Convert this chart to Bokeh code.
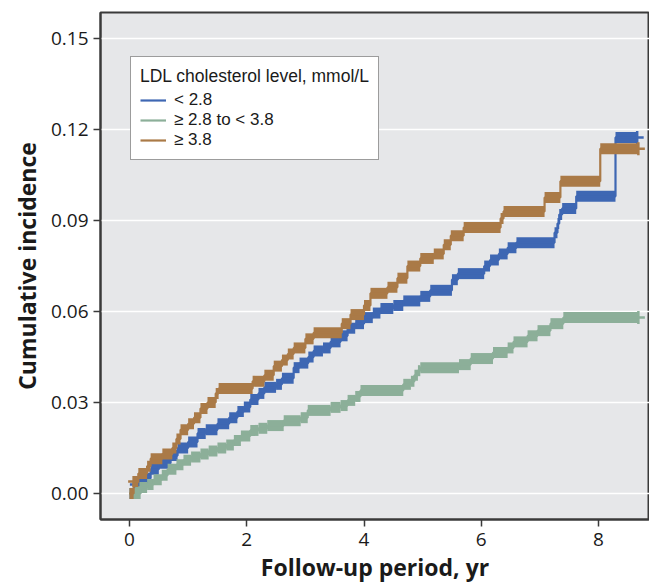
from bokeh.plotting import figure
from bokeh.models import Range1d, FixedTicker, Legend, LegendItem, PrintfTickFormatter
from bokeh.embed import file_html
from bokeh.resources import INLINE

legend_title = "LDL cholesterol level, mmol/L"
group_labels = ["< 2.8", "\u2265 2.8 to < 3.8", "\u2265 3.8"]
x_ticks = [0, 2, 4, 6, 8]
y_ticks = [0.0, 0.03, 0.06, 0.09, 0.12, 0.15]

# < 2.8 mmol/L (blue): step times and cumulative incidence
low_t = [0, 0.1, 0.2, 0.36, 0.5, 0.7, 0.82, 1.0, 1.16, 1.3, 1.5, 1.7, 1.84, 1.95, 2.06, 2.2,
         2.3, 2.5, 2.6, 2.8, 2.9, 3.05, 3.14, 3.3, 3.43, 3.6, 3.72, 3.85, 4.0, 4.15, 4.28,
         4.5, 4.67, 4.96, 5.13, 5.5, 5.6, 6.05, 6.15, 6.3, 6.45, 6.6, 7.25, 7.3, 7.33, 7.38,
         7.62, 8.29]
low_v = [0, 0.003, 0.005, 0.008, 0.010, 0.0125, 0.015, 0.017, 0.0198, 0.021, 0.023, 0.025,
         0.027, 0.0285, 0.031, 0.033, 0.035, 0.036, 0.038, 0.0415, 0.043, 0.045, 0.047, 0.048,
         0.050, 0.052, 0.0545, 0.056, 0.058, 0.0595, 0.061, 0.062, 0.0635, 0.065, 0.067,
         0.0705, 0.0725, 0.075, 0.077, 0.079, 0.081, 0.0827, 0.086, 0.089, 0.092, 0.094,
         0.098, 0.1174]
low_end = 8.66

# >= 2.8 to < 3.8 mmol/L (green)
mid_t = [0, 0.19, 0.3, 0.41, 0.55, 0.65, 0.8, 0.92, 1.05, 1.21, 1.35, 1.5, 1.65, 1.78, 1.9,
         2.06, 2.2, 2.35, 2.63, 2.92, 3.04, 3.43, 3.6, 3.72, 3.85, 3.94, 4.67, 4.8, 4.86,
         4.92, 4.96, 5.62, 5.82, 6.2, 6.45, 6.55, 6.79, 6.96, 7.18, 7.4]
mid_v = [0, 0.002, 0.003, 0.0045, 0.006, 0.008, 0.0095, 0.011, 0.012, 0.013, 0.014, 0.015,
         0.016, 0.0175, 0.019, 0.0208, 0.0215, 0.0224, 0.024, 0.025, 0.0274, 0.0284, 0.029,
         0.0307, 0.032, 0.034, 0.036, 0.037, 0.039, 0.0405, 0.0415, 0.0425, 0.0445, 0.0465,
         0.048, 0.050, 0.052, 0.0537, 0.056, 0.058]
mid_end = 8.68

# >= 3.8 mmol/L (brown)
high_t = [0, 0.07, 0.15, 0.3, 0.36, 0.56, 0.73, 0.8, 0.87, 1.0, 1.1, 1.21, 1.33, 1.47, 1.52,
          2.1, 2.3, 2.46, 2.6, 2.7, 2.8, 3.0, 3.14, 3.62, 3.77, 4.0, 4.11, 4.4, 4.57, 4.74,
          4.96, 5.19, 5.36, 5.48, 5.7, 6.33, 6.38, 7.08, 7.35, 8.03]
high_v = [0, 0.004, 0.0066, 0.009, 0.0115, 0.013, 0.015, 0.018, 0.021, 0.023, 0.025, 0.028,
          0.030, 0.033, 0.0346, 0.037, 0.039, 0.042, 0.044, 0.046, 0.048, 0.051, 0.053, 0.056,
          0.059, 0.062, 0.066, 0.068, 0.071, 0.075, 0.0775, 0.079, 0.082, 0.085, 0.0877,
          0.0907, 0.093, 0.0976, 0.103, 0.1137]
high_end = 8.68

colors = ["#3e67b3", "#8caf99", "#aa7a47"]
series = [(low_t, low_v, low_end), (mid_t, mid_v, mid_end), (high_t, high_v, high_end)]

p = figure(width=649, height=585, output_backend="svg", toolbar_location=None,
           x_range=Range1d(-0.495, 8.87), y_range=Range1d(-0.00857, 0.1586),
           min_border_left=100, min_border_top=12, min_border_right=0, min_border_bottom=66)
p.background_fill_color = "#e6e7e9"
p.border_fill_color = "white"
p.outline_line_color = "#3a3a3a"
p.outline_line_width = 2

p.xgrid.visible = False
yt = FixedTicker(ticks=y_ticks)
p.yaxis.ticker = yt
p.ygrid.ticker = yt
p.ygrid.grid_line_color = "white"
p.ygrid.grid_line_width = 1.5
p.xaxis.ticker = FixedTicker(ticks=x_ticks)
p.yaxis.formatter = PrintfTickFormatter(format="%.2f")

for ax in (p.xaxis, p.yaxis):
    ax.axis_line_color = "#3a3a3a"
    ax.axis_line_width = 2
    ax.major_tick_line_color = "#3a3a3a"
    ax.major_tick_line_width = 1.5
    ax.major_tick_out = 7
    ax.major_tick_in = 0
    ax.minor_tick_line_color = None
    ax.major_label_text_font = "Open Sans"
    ax.major_label_text_font_size = "19px"
    ax.major_label_text_color = "#1a1a1a"
    ax.axis_label_text_font = "Open Sans"
    ax.axis_label_text_font_size = "23px"
    ax.axis_label_text_font_style = "bold"
    ax.axis_label_text_color = "#1a1a1a"
p.xaxis.axis_label = "Follow-up period, yr"
p.yaxis.axis_label = "Cumulative incidence"
p.xaxis.major_label_standoff = 6
p.yaxis.major_label_standoff = 5
p.xaxis.axis_label_standoff = 2
p.yaxis.axis_label_standoff = 5

line_renderers = []
for (ts, vs, end), c in zip(series, colors):
    xs_step = ts + [end]
    ys_step = vs + [vs[-1]]
    # dense censoring marks form a band along each step
    nxt = ts[1:] + [end]
    mids = [(a + b) / 2 for a, b in zip(ts, nxt)]
    widths = [b - a for a, b in zip(ts, nxt)]
    p.rect(x=mids, y=vs, width=widths, height=11, height_units="screen",
           fill_color=c, line_color=None)
    r = p.step(x=xs_step, y=ys_step, mode="after", line_color=c, line_width=2.2)
    p.scatter(x=[end], y=[vs[-1]], marker="cross", size=13, line_color=c, line_width=2.5)
    p.scatter(x=[ts[1]], y=[vs[1]], marker="cross", size=11, line_color=c, line_width=2.5)
    line_renderers.append(r)

legend = Legend(items=[LegendItem(label=lab, renderers=[r]) for lab, r in zip(group_labels, line_renderers)],
                location=(30, 359), title=legend_title)
legend.title_text_font = "Liberation Sans"
legend.title_text_font_size = "17.5px"
legend.title_text_font_style = "normal"
legend.title_text_color = "#1a1a1a"
legend.label_text_font = "Liberation Sans"
legend.label_text_font_size = "17px"
legend.label_text_color = "#1a1a1a"
legend.border_line_color = "#3a3a3a"
legend.border_line_width = 1.5
legend.background_fill_color = "white"
legend.background_fill_alpha = 1
legend.glyph_width = 26
legend.glyph_height = 14
legend.label_height = 14
legend.spacing = 0
legend.padding = 9
legend.margin = 0
legend.label_standoff = 8
legend.title_standoff = 3
p.add_layout(legend)

open("out.html", "w").write(file_html(p, INLINE))
